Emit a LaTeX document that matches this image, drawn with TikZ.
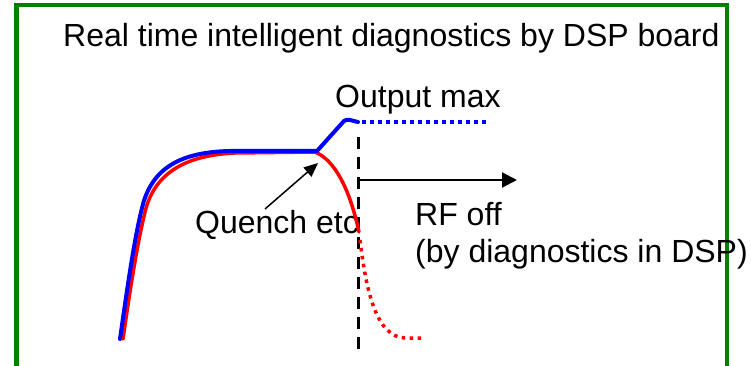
\documentclass[tikz,border=0pt]{standalone}
\usepackage{fontspec}
\setmainfont{Liberation Sans}
\usetikzlibrary{arrows.meta}
\definecolor{frame}{RGB}{0,128,0}
\definecolor{bl}{RGB}{0,0,255}
\definecolor{rd}{RGB}{255,0,0}
\begin{document}
\begin{tikzpicture}[x=1pt,y=-1pt,
  lbl/.style={inner sep=0pt,anchor=base west,font=\fontsize{32}{38}\selectfont},
  bluecurve/.style={draw=bl,line width=4pt,line cap=round,line join=round},
  redcurve/.style={draw=rd,line width=3.5pt,line cap=round,line join=round},
  dotline/.style={line width=3.5pt,dash pattern=on 3.5pt off 4.5pt},
]
\useasboundingbox (0,0) rectangle (751,366);
\clip (0,0) rectangle (751,366);
% frame
\draw[frame,line width=4.5pt] (16.5,375) -- (16.5,5) -- (727,5) -- (727,375);
% texts
\node[lbl] (title) at (63,47) {Real time intelligent diagnostics by DSP board};
\node[lbl] (outmax) at (335,108) {Output max};
\node[lbl] (quench) at (195,233) {Quench etc};
\node[lbl] (rfoff) at (415,225) {RF off};
\node[lbl] (bydiag) at (415,262) {(by diagnostics in DSP)};
% coordinates
\coordinate (qstart) at (265,209);
\coordinate (qtip) at (318,163);
\coordinate (dtop) at (358,137);
\coordinate (dbot) at (358,350);
\coordinate (astart) at (358,180);
\coordinate (aend) at (517,180);
% dashed vertical
\draw[black,line width=3pt,dash pattern=on 12pt off 8pt] (dtop) -- (dbot);
% horizontal arrow
\draw[black,line width=2pt,-{Triangle[length=15pt,width=15pt]}] (astart) -- (aend);
% red curve
\draw[redcurve] (123,339) .. controls (130,290) and (137,245) .. (145,212)
  .. controls (155,170) and (190,155) .. (235,153) -- (315,152)
  .. controls (335,160) and (350,190) .. (359,232);
\draw[rd,dotline] (360,240) .. controls (366,290) and (376,337) .. (405,338) -- (422,338);
% blue curve
\draw[bluecurve] (120,339) .. controls (127,290) and (134,240) .. (142,208)
  .. controls (152,165) and (185,152) .. (230,151) -- (317,151) -- (344,121)
  .. controls (348,118) and (352,121) .. (358,122);
\draw[bl,dotline] (362,122) -- (490,122);
% quench arrow
\draw[black,line width=1.5pt,-{Triangle[length=14pt,width=12pt]}] (qstart) -- (qtip);
\end{tikzpicture}
\end{document}
